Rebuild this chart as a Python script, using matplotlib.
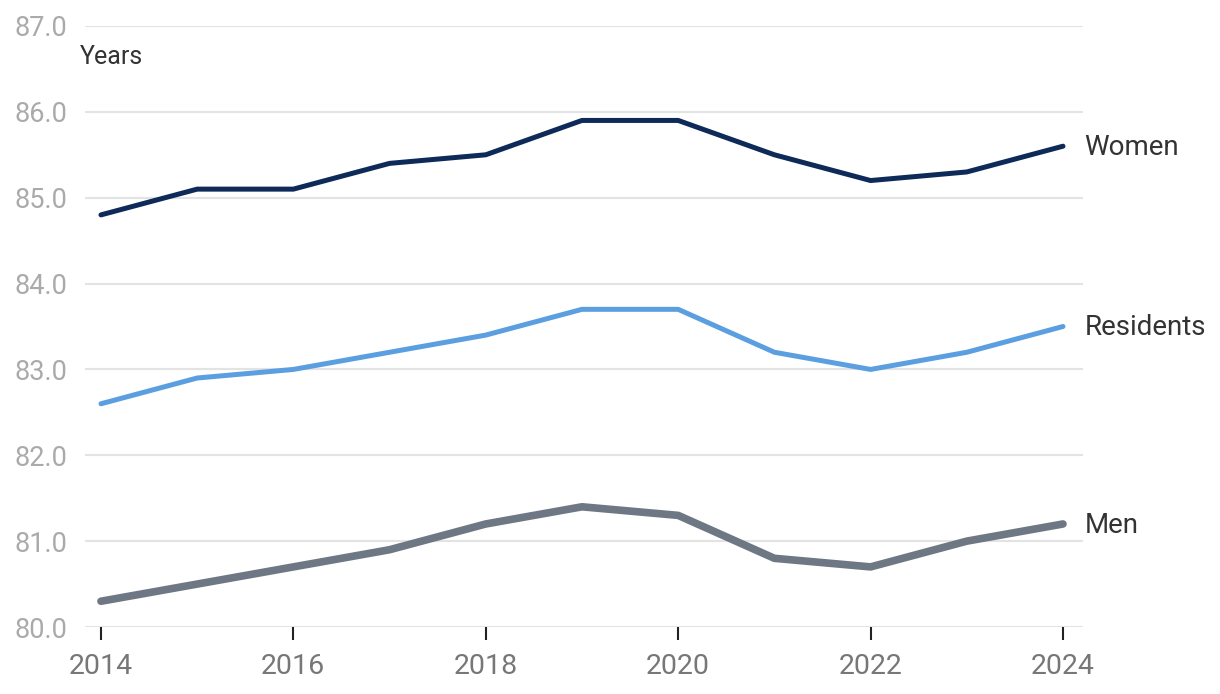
import matplotlib
matplotlib.use("Agg")
import matplotlib.pyplot as plt

plt.rcParams['font.family'] = ['Roboto', 'DejaVu Sans']

years = list(range(2014, 2025))
women = [84.8, 85.1, 85.1, 85.4, 85.5, 85.9, 85.9, 85.5, 85.2, 85.3, 85.6]
residents = [82.6, 82.9, 83.0, 83.2, 83.4, 83.7, 83.7, 83.2, 83.0, 83.2, 83.5]
men = [80.3, 80.5, 80.7, 80.9, 81.2, 81.4, 81.3, 80.8, 80.7, 81.0, 81.2]

series = [
    ("Women", women, "#0e2a58", 3.6),
    ("Residents", residents, "#5b9fe0", 3.6),
    ("Men", men, "#6e7884", 5.5),
]

fig = plt.figure(figsize=(12.2, 6.94), dpi=100)
ax = fig.add_axes([85 / 1220, 1 - 627 / 694, (1083 - 85) / 1220, (627 - 26) / 694])

for name, vals, color, lw in series:
    ax.plot(years, vals, color=color, lw=lw, solid_capstyle="round",
            solid_joinstyle="round", zorder=3, clip_on=False)
    ax.annotate(name, xy=(years[-1], vals[-1]), xytext=(15.5, -1),
                textcoords="offset points", va="center", ha="left",
                fontsize=20, color="#333333", annotation_clip=False)

ax.set_xlim(2013.834, 2024.208)
ax.set_ylim(80, 87)
ax.set_yticks(range(80, 88))
ax.set_yticklabels(["{:.1f}".format(v) for v in range(80, 88)])
ax.set_xticks(range(2014, 2025, 2))

ax.grid(axis="y", color="#e3e3e3", lw=1.5)
ax.set_axisbelow(True)
for s in ax.spines.values():
    s.set_visible(False)

ax.tick_params(axis="y", length=0, pad=13, labelsize=19.5, labelcolor="#aaaaaa")
ax.tick_params(axis="x", length=9, width=1.5, color="#222222", pad=10,
               labelsize=20.5, labelcolor="#777777")

ax.text(80 / 1220, 1 - 57 / 694, "Years", transform=fig.transFigure,
        fontsize=18, color="#333333", va="center", ha="left")

fig.savefig("out.png", dpi=100)
